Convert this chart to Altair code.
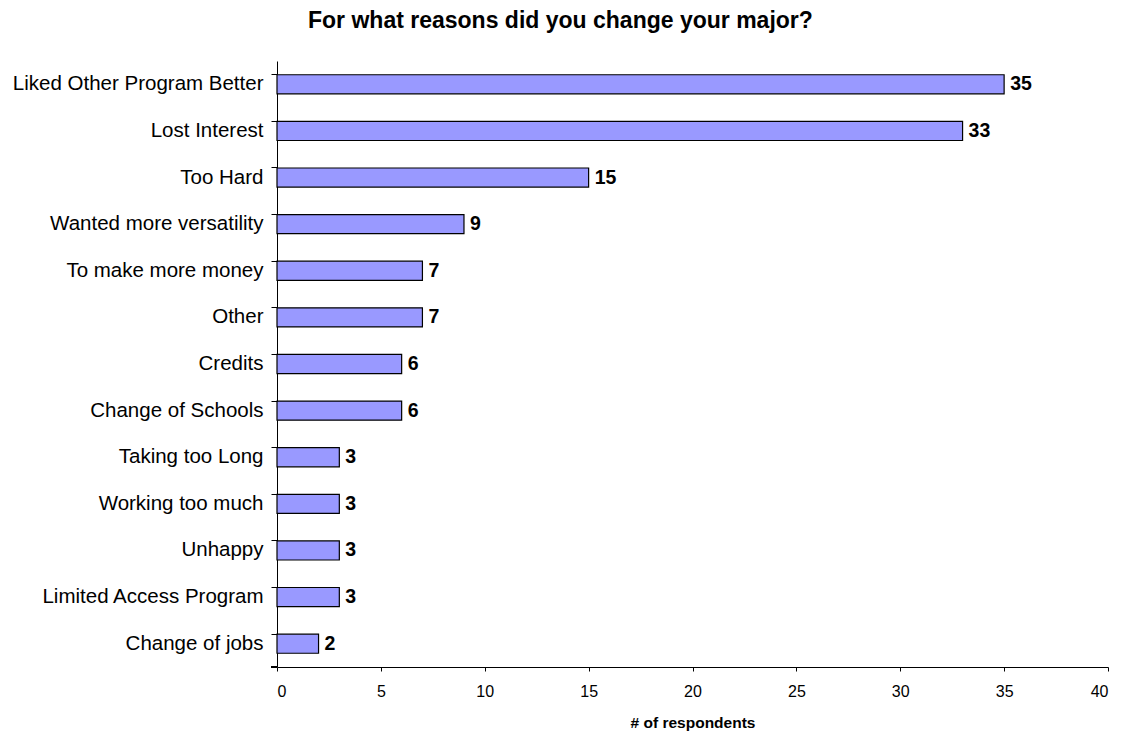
import altair as alt
import pandas as pd

categories = [
    "Liked Other Program Better", "Lost Interest", "Too Hard",
    "Wanted more versatility", "To make more money", "Other", "Credits",
    "Change of Schools", "Taking too Long", "Working too much", "Unhappy",
    "Limited Access Program", "Change of jobs",
]
values = [35, 33, 15, 9, 7, 7, 6, 6, 3, 3, 3, 3, 2]
x_ticks = [0, 5, 10, 15, 20, 25, 30, 35, 40]

df = pd.DataFrame({"reason": categories, "count": values})

W, H = 831, 606
FONT = "Liberation Sans"

y_enc = alt.Y(
    "reason:N", sort=categories, title=None,
    scale=alt.Scale(paddingInner=0.59, paddingOuter=0.295),
    axis=alt.Axis(
        bandPosition=0, labelFontSize=20.5, labelFont=FONT, labelColor="black",
        tickColor="black", tickSize=6, domainColor="black", labelPadding=8,
        labelBound=False, labelLimit=0,
    ),
)
x_enc = alt.X(
    "count:Q", title="# of respondents",
    scale=alt.Scale(domain=[0, 40], nice=False),
    axis=alt.Axis(
        values=x_ticks, grid=False, labelFontSize=16, labelFont=FONT,
        labelColor="black", tickColor="black", tickSize=4, domainColor="black",
        titleFontSize=15.5, titleFont=FONT, titleFontWeight="bold",
        titleColor="black", labelPadding=12, titlePadding=16,
    ),
)

bars = alt.Chart(df).mark_bar(
    color="#9999FF", stroke="black", strokeWidth=1.2
).encode(x=x_enc, y=y_enc)

labels = alt.Chart(df).mark_text(
    align="left", baseline="middle", dx=6, fontSize=19.5, fontWeight="bold",
    font=FONT, color="black"
).encode(x="count:Q", y=alt.Y("reason:N", sort=categories), text="count:Q")

bottom_tick = alt.Chart(df).mark_rule(color="black").encode(
    x=alt.value(-6), x2=alt.value(0), y=alt.value(H)
)

chart = alt.layer(bars, labels, bottom_tick).properties(
    width=W, height=H,
    background="white",
    padding={"left": 4, "top": 2, "right": 5, "bottom": 3},
    title=alt.TitleParams(
        "For what reasons did you change your major?", fontSize=23,
        font=FONT, fontWeight="bold", color="black", anchor="middle",
        frame="bounds", offset=28,
    ),
).configure_view(stroke=None)

chart.save("out.html", embed_options={"renderer": "svg", "actions": False})
